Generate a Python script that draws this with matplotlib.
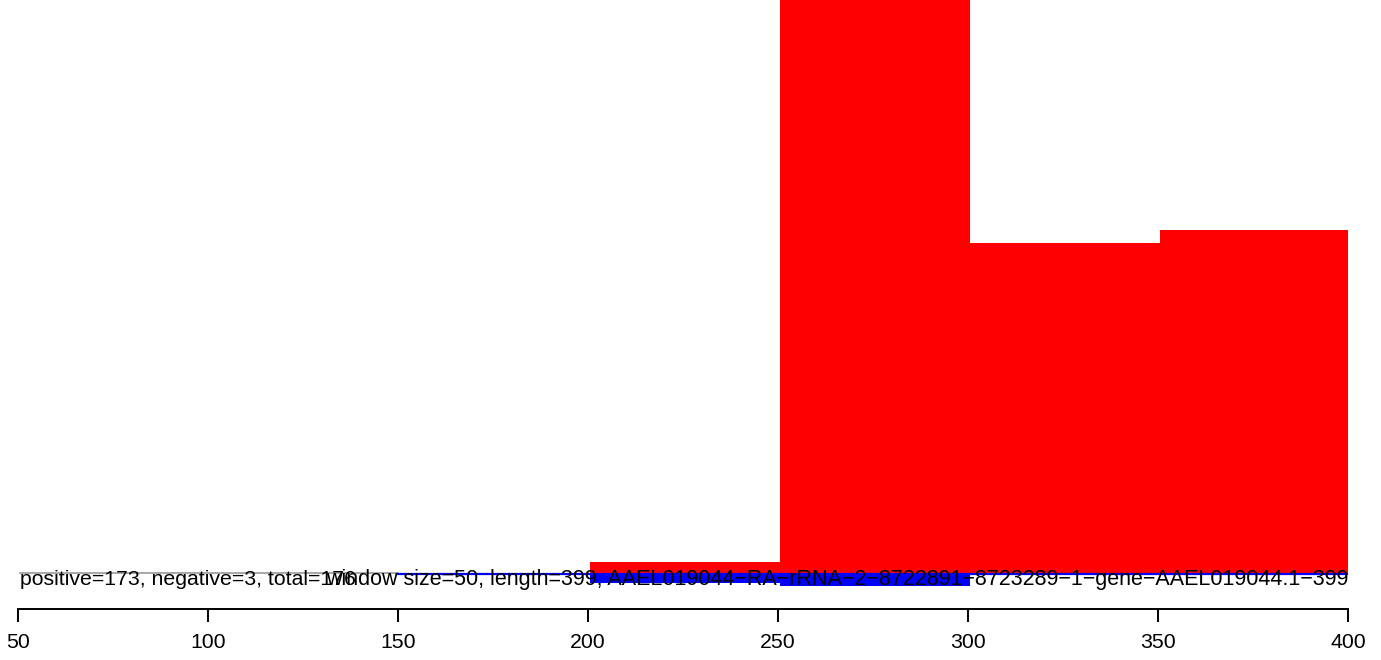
import matplotlib
matplotlib.use("Agg")
import matplotlib.pyplot as plt

# data (arbitrary units)
win_left = [200.5, 250.5, 300.5, 350.5]
win_width = [50, 50, 50, 49.5]
positive = [11, 700, 330, 343]
negative = [10, 13, 0, 0]
xticks = [50, 100, 150, 200, 250, 300, 350, 400]
label_counts = "positive=173, negative=3, total=176"
label_title = "window size=50, length=399, AAEL019044\u2212RA\u2212rRNA\u22122\u22128722891\u22128723289\u22121\u2212gene\u2212AAEL019044.1\u2212399"

plt.rcParams['font.family'] = ['Liberation Sans', 'DejaVu Sans']
fig = plt.figure(figsize=(13.81, 6.6), dpi=100)
x0 = 18 / 1381
x1 = 1348 / 1381
ax = fig.add_axes([x0, 0, x1 - x0, 1])
ax.set_xlim(50, 400)
ax.set_ylim(-87, 573)

ax.bar(win_left, positive, width=win_width, align='edge', color='#ff0000', linewidth=0)
ax.bar(win_left, [-v for v in negative], width=win_width, align='edge', color='#0000ff', linewidth=0)

ax.plot([50.5, 150], [0, 0], color='#999999', lw=1.2, zorder=1)
ax.plot([150, 400], [-1, -1], color='#0000ff', lw=1.6, zorder=3)

ax.text(50.5, -12, label_counts, fontsize=15.3, ha='left', va='baseline', zorder=5)
ax.text(400, -12, label_title, fontsize=15.5, ha='right', va='baseline', zorder=5)

for s in ['top', 'right', 'left']:
    ax.spines[s].set_visible(False)
ax.spines['bottom'].set_position(('data', -36))
ax.spines['bottom'].set_bounds(50, 400)
ax.spines['bottom'].set_linewidth(1.4)
ax.set_yticks([])
ax.set_xticks(xticks)
ax.set_xticklabels([str(t) for t in xticks])
ax.tick_params(axis='x', direction='out', length=9, width=1.4, pad=8, labelsize=15.3)
ax.patch.set_alpha(0)

fig.savefig("out.png", dpi=100)
